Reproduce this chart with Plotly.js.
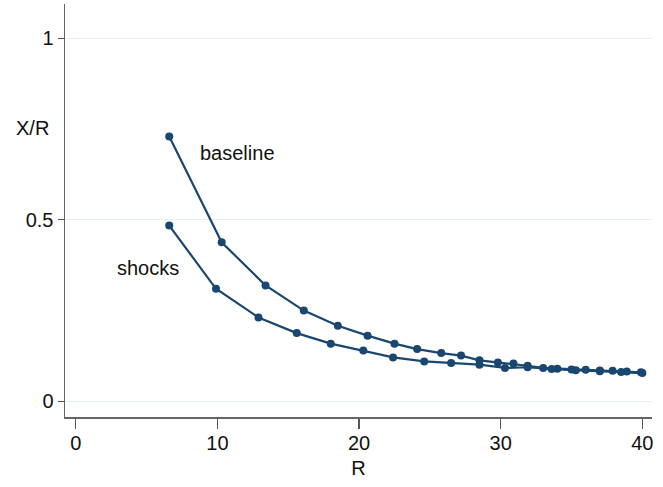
<!DOCTYPE html>
<html>
<head>
<meta charset="utf-8">
<script src="https://cdn.plot.ly/plotly-3.0.1.min.js"></script>
<style>html,body{margin:0;padding:0;background:#fff;}#chart{width:663px;height:487px;}</style>
</head>
<body>
<div id="chart"></div>
<script>
// Baseline series (R, X/R)
const baselineR = [6.6, 10.3, 13.4, 16.1, 18.5, 20.6, 22.5, 24.1, 25.8, 27.2, 28.5, 29.8, 30.9, 31.9, 33.0, 34.0, 35.0, 36.0, 37.0, 37.9, 38.9, 39.9];
const baselineXR = [0.729, 0.438, 0.319, 0.250, 0.208, 0.181, 0.159, 0.144, 0.133, 0.126, 0.113, 0.107, 0.104, 0.098, 0.092, 0.090, 0.088, 0.087, 0.085, 0.084, 0.082, 0.080];
// Shocks series (R, X/R)
const shocksR = [6.6, 9.9, 12.9, 15.6, 18.0, 20.3, 22.4, 24.6, 26.5, 28.5, 30.3, 31.9, 33.6, 35.3, 37.0, 38.5, 40.0];
const shocksXR = [0.484, 0.310, 0.231, 0.188, 0.159, 0.140, 0.121, 0.110, 0.106, 0.101, 0.092, 0.094, 0.089, 0.086, 0.083, 0.081, 0.078];
const xTicks = [0, 10, 20, 30, 40];
const yTicks = [0, 0.5, 1];
const yTickLabels = ['0', '0.5', '1'];

const navy = '#1a476f';
const font = '"Liberation Sans", Arial, sans-serif';
const fs = 20;

const traces = [
  {x: baselineR, y: baselineXR, mode: 'lines+markers', name: 'baseline',
   line: {color: navy, width: 2.2}, marker: {color: navy, size: 8}},
  {x: shocksR, y: shocksXR, mode: 'lines+markers', name: 'shocks',
   line: {color: navy, width: 2.2}, marker: {color: navy, size: 8}}
];

const layout = {
  width: 663, height: 487,
  margin: {l: 65, r: 11, t: 4, b: 70},
  paper_bgcolor: '#fff', plot_bgcolor: '#fff',
  showlegend: false,
  font: {family: font, size: fs, color: '#111'},
  xaxis: {
    range: [-0.76, 40.68], tickvals: xTicks, ticktext: xTicks.map(String),
    ticks: 'outside', ticklen: 10, tickcolor: '#555', tickwidth: 1.2,
    ticklabelstandoff: -3,
    showgrid: false, zeroline: false,
    showline: true, linecolor: '#666', linewidth: 1.5,
    tickfont: {family: font, size: fs, color: '#111'},
    title: {text: 'R', font: {family: font, size: fs, color: '#111'}, standoff: 8}
  },
  yaxis: {
    range: [-0.043, 1.094], tickvals: yTicks, ticktext: yTickLabels,
    ticks: 'outside', ticklen: 6, tickcolor: '#555', tickwidth: 1.2,
    showgrid: true, gridcolor: '#e6eff2', gridwidth: 1.2,
    zeroline: false,
    showline: true, linecolor: '#666', linewidth: 1.5,
    tickfont: {family: font, size: fs, color: '#111'}
  },
  annotations: [
    {xref: 'paper', yref: 'paper', x: -0.056, y: 0.70, xanchor: 'center', yanchor: 'middle',
     text: 'X/R', showarrow: false, font: {family: font, size: fs, color: '#111'}},
    {xref: 'x', yref: 'y', x: 8.6, y: 0.685, text: 'baseline', showarrow: false, xanchor: 'left',
     font: {family: font, size: fs, color: '#111'}},
    {xref: 'x', yref: 'y', x: 2.8, y: 0.366, text: 'shocks', showarrow: false, xanchor: 'left',
     font: {family: font, size: fs, color: '#111'}}
  ]
};

Plotly.newPlot('chart', traces, layout, {displayModeBar: false, staticPlot: true});
</script>
</body>
</html>
